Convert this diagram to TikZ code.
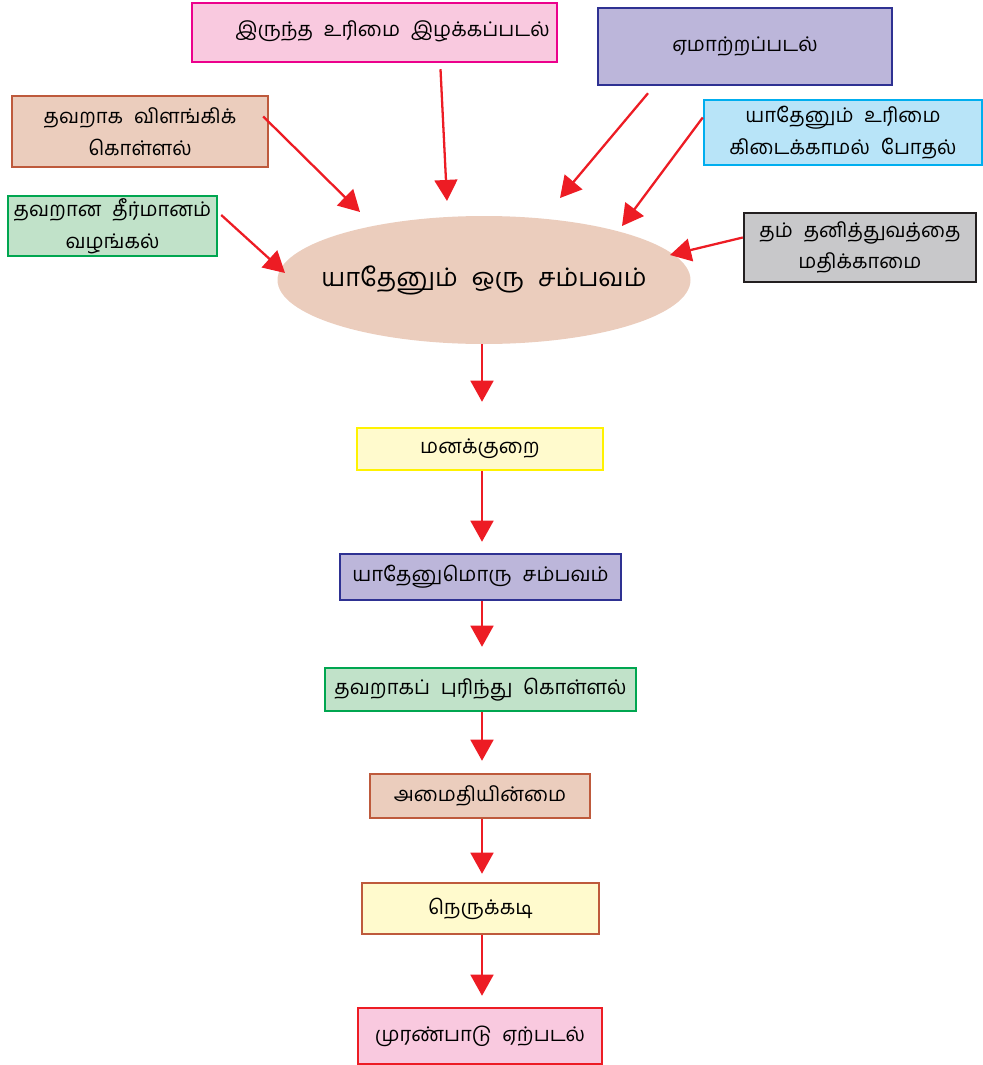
\documentclass[tikz,border=0pt]{standalone}
\usepackage{fontspec}
\usepackage{tikz}
\usetikzlibrary{shapes.geometric, arrows.meta}
\newfontfamily\tamilFont[Script=Tamil, WordSpace=2.2]{Hind Madurai}
\definecolor{arrowRed}{HTML}{ED1C24}
\definecolor{pinkFill}{HTML}{F9C9DF}
\definecolor{pinkLine}{HTML}{EC008C}
\definecolor{purpleFill}{HTML}{BCB6DA}
\definecolor{purpleLine}{HTML}{2E3192}
\definecolor{brownFill}{HTML}{EBCDBD}
\definecolor{brownLine}{HTML}{BE5A3C}
\definecolor{blueFill}{HTML}{B8E4F8}
\definecolor{blueLine}{HTML}{00AEEF}
\definecolor{greenFill}{HTML}{C1E2C9}
\definecolor{greenLine}{HTML}{00A650}
\definecolor{grayFill}{HTML}{C8C8CA}
\definecolor{grayLine}{HTML}{231F20}
\definecolor{yellowFill}{HTML}{FFFACD}
\definecolor{yellowLine}{HTML}{FFF200}
\newcommand{\unitPx}{0.02cm}
\tikzstyle{sheet} = [x = 0.02cm, y = -0.02cm]
\tikzstyle{boxStyle} = [rectangle, line width = 1.4pt, inner sep = 0pt, align = center, font = \tamilFont\fontsize{11.5pt}{18pt}\selectfont]
\tikzstyle{pinkBox} = [boxStyle, draw = pinkLine, fill = pinkFill]
\tikzstyle{redBox} = [boxStyle, draw = arrowRed, fill = pinkFill]
\tikzstyle{purpleBox} = [boxStyle, draw = purpleLine, fill = purpleFill]
\tikzstyle{brownBox} = [boxStyle, draw = brownLine, fill = brownFill]
\tikzstyle{blueBox} = [boxStyle, draw = blueLine, fill = blueFill]
\tikzstyle{greenBox} = [boxStyle, draw = greenLine, fill = greenFill]
\tikzstyle{grayBox} = [boxStyle, draw = grayLine, fill = grayFill]
\tikzstyle{yellowBox} = [boxStyle, draw = yellowLine, fill = yellowFill]
\tikzstyle{noteBox} = [boxStyle, draw = brownLine, fill = yellowFill]
\tikzstyle{eventShape} = [ellipse, fill = brownFill, inner sep = 0pt, font = \tamilFont\fontsize{14.5pt}{17pt}\selectfont]
\tikzstyle{flowArrow} = [draw = arrowRed, line width = 1.3pt, -{Triangle[width = 13pt, length = 12pt]}]
\newcommand{\flowBox}[7]{\node [#2, minimum width = {(#5 - #3) * \unitPx}, minimum height = {(#6 - #4) * \unitPx}] (#1) at ({(#3 + #5) / 2}, {(#4 + #6) / 2}) {#7};}
\newcommand{\stepDown}[3]{\draw [flowArrow, shorten >= #3 * \unitPx] (#1.south -| 482, 0) -- (#2.north -| 482, 0);}
\begin{document}
\begin{tikzpicture}[sheet]
  \useasboundingbox (0, 0) rectangle (983, 1065);
  \flowBox{lostRight}{pinkBox}{192}{3}{557}{62}{\raisebox{4pt}{\hspace*{0.72cm}இருந்த உரிமை இழக்கப்படல்}}
  \flowBox{deceived}{purpleBox}{598}{8}{892}{85}{ஏமாற்றப்படல்}
  \flowBox{misread}{brownBox}{12}{96}{268}{167}{தவறாக விளங்கிக்\\கொள்ளல்}
  \flowBox{noRight}{blueBox}{704}{100}{982}{165}{யாதேனும் உரிமை\\கிடைக்காமல் போதல்}
  \flowBox{wrongJudge}{greenBox}{8}{196}{217}{256}{தவறான தீர்மானம்\\வழங்கல்}
  \flowBox{noRespect}{grayBox}{744}{213}{976}{282}{தம் தனித்துவத்தை\\மதிக்காமை}
  \node [eventShape, minimum width = 413 * \unitPx, minimum height = 128 * \unitPx] (event) at (484, 280) {\makebox[0pt]{யாதேனும் ஒரு சம்பவம்}};

  \flowBox{grievance}{yellowBox}{357}{428}{603}{470}{மனக்குறை}
  \flowBox{incident}{purpleBox}{340}{554}{621}{600}{யாதேனுமொரு சம்பவம்}
  \flowBox{mistake}{greenBox}{325}{668}{636}{711}{தவறாகப் புரிந்து கொள்ளல்}
  \flowBox{unrest}{brownBox}{370}{774}{590}{818}{அமைதியின்மை}
  \flowBox{crisis}{noteBox}{362}{883}{599}{934}{நெருக்கடி}
  \flowBox{conflict}{redBox}{358}{1008}{602}{1064}{முரண்பாடு ஏற்படல்}

  \coordinate (tipLost) at (447, 201);
  \coordinate (tipDeceived) at (560, 198);
  \coordinate (tipMisread) at (360, 212);
  \coordinate (tipNoRight) at (622, 226);
  \coordinate (tipJudge) at (285, 273);
  \coordinate (tipRespect) at (670, 255);
  \draw [flowArrow] ([xshift = 66 * \unitPx, yshift = -6 * \unitPx]lostRight.south) -- (tipLost);
  \draw [flowArrow] ([xshift = -97 * \unitPx, yshift = -7 * \unitPx]deceived.south) -- (tipDeceived);
  \draw [flowArrow] ([xshift = -6 * \unitPx, yshift = 15 * \unitPx]misread.east) -- (tipMisread);
  \draw [flowArrow] ([yshift = 15 * \unitPx]noRight.west) -- (tipNoRight);
  \draw [flowArrow] ([xshift = 3 * \unitPx, yshift = 11 * \unitPx]wrongJudge.east) -- (tipJudge);
  \draw [flowArrow] ([yshift = 10 * \unitPx]noRespect.west) -- (tipRespect);

  \stepDown{event}{grievance}{25}
  \stepDown{grievance}{incident}{11}
  \stepDown{incident}{mistake}{20}
  \stepDown{mistake}{unrest}{12}
  \stepDown{unrest}{crisis}{8}
  \stepDown{crisis}{conflict}{11}
\end{tikzpicture}
\end{document}
